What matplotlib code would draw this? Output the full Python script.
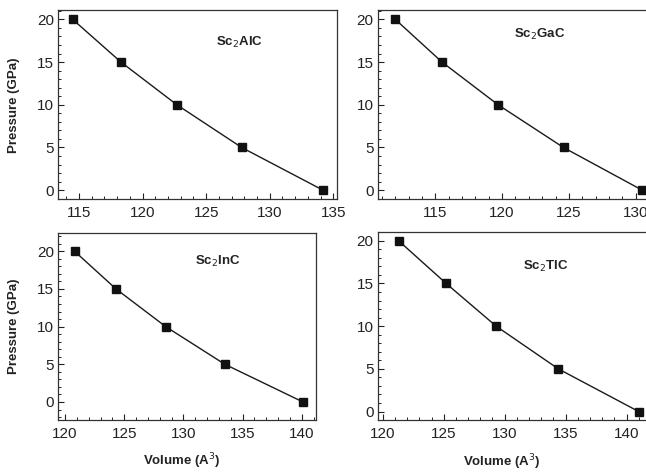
import matplotlib
matplotlib.use("Agg")
import matplotlib.pyplot as plt
from matplotlib.ticker import MultipleLocator

plt.rcParams["font.family"] = ["Liberation Sans", "DejaVu Sans"]

pressure = [20, 15, 10, 5, 0]

vol_alc = [114.5, 118.3, 122.7, 127.8, 134.2]
vol_gac = [112.0, 115.5, 119.7, 124.6, 130.5]
vol_inc = [120.8, 124.3, 128.5, 133.5, 140.1]
vol_tlc = [121.3, 125.2, 129.3, 134.4, 141.0]

names = ["Sc$_2$AlC", "Sc$_2$GaC", "Sc$_2$InC", "Sc$_2$TlC"]
volumes = [vol_alc, vol_gac, vol_inc, vol_tlc]

fig = plt.figure(figsize=(6.46, 4.72), dpi=100)

# axes rectangles (figure fractions)
rects = [
    [0.0898, 0.578, 0.432, 0.400],
    [0.585, 0.578, 0.432, 0.400],
    [0.0898, 0.110, 0.3994, 0.396],
    [0.585, 0.110, 0.432, 0.398],
]
xlims = [(113.35, 135.3), (110.7, 131.6), (119.4, 141.2), (119.6, 142.5)]
ylims = [(-1.05, 21.05), (-1.05, 21.05), (-2.4, 22.4), (-1.0, 21.0)]
name_pos = [(0.65, 0.83), (0.58, 0.87), (0.62, 0.85), (0.60, 0.82)]

for i in range(4):
    ax = fig.add_axes(rects[i])
    ax.plot(volumes[i], pressure, "-", color="#1a1a1a", linewidth=1.0)
    ax.plot(volumes[i], pressure, "s", color="#111111", markersize=5.5)
    ax.set_xlim(*xlims[i])
    ax.set_ylim(*ylims[i])
    ax.xaxis.set_major_locator(MultipleLocator(5))
    ax.xaxis.set_minor_locator(MultipleLocator(1))
    ax.yaxis.set_major_locator(MultipleLocator(5))
    ax.yaxis.set_minor_locator(MultipleLocator(1))
    ax.tick_params(which="both", direction="in", top=False, right=False,
                   labelsize=11, colors="#222222")
    ax.tick_params(axis="y", pad=3)
    ax.tick_params(axis="x", pad=5)
    ax.tick_params(which="major", length=4, width=0.8)
    ax.tick_params(which="minor", length=2.5, width=0.7)
    for sp in ax.spines.values():
        sp.set_linewidth(0.9)
        sp.set_color("#333333")
    ax.text(name_pos[i][0], name_pos[i][1], names[i], transform=ax.transAxes,
            fontsize=9.5, fontweight="bold", ha="center", va="center", color="#222222")
    if i in (0, 2):
        ax.set_ylabel("Pressure (GPa)", fontsize=9.5, fontweight="bold", color="#222222")
    if i in (2, 3):
        ax.set_xlabel("Volume (A$^3$)", fontsize=9.5, fontweight="bold", color="#222222")
    if i == 0:
        ax.yaxis.set_label_coords(-0.136, 0.5)
    if i == 2:
        ax.yaxis.set_label_coords(-0.147, 0.5)
        ax.xaxis.set_label_coords(0.48, -0.17)
    if i == 3:
        ax.xaxis.set_label_coords(0.445, -0.17)

fig.savefig("out.png", dpi=100)
